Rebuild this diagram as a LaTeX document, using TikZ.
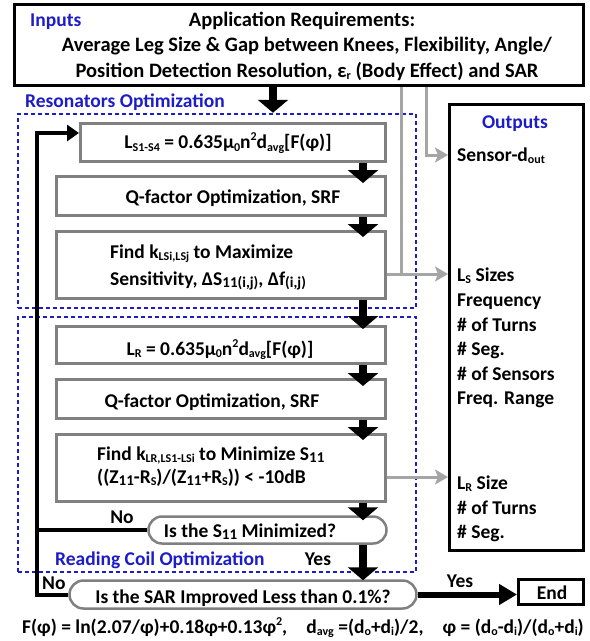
\documentclass[tikz,border=0pt]{standalone}
\usepackage{fontspec}
\setmainfont{Carlito}
\usetikzlibrary{arrows.meta,shapes.misc}
\definecolor{ttlblue}{RGB}{28,28,200}
\definecolor{boxgray}{RGB}{128,128,128}
\definecolor{arrgray}{RGB}{165,165,165}
% small lowered / raised text for indices and powers
\newcommand\sbx[1]{\raisebox{-0.3ex}{\fontsize{12}{12}\selectfont #1}}
\newcommand\spx[1]{\raisebox{0.8ex}{\fontsize{12}{12}\selectfont #1}}
\newcommand\sbxl[1]{\raisebox{-0.3ex}{\fontsize{15}{15}\selectfont #1}}
\begin{document}
\begin{tikzpicture}[x=1pt,y=-1pt,
  every node/.style={inner sep=0pt,font=\fontsize{19.5}{23}\selectfont\bfseries},
  bigtext/.style={font=\fontsize{20.5}{24}\selectfont\bfseries},
  txt/.style={anchor=base},
  txtl/.style={anchor=base west},
  ttl/.style={anchor=base west,text=ttlblue},
  procbox/.style={draw=boxgray,line width=3pt,rectangle},
  blkbox/.style={draw=black,line width=3pt,rectangle},
  decbox/.style={draw=boxgray,line width=2.5pt,rounded rectangle},
  dotbox/.style={draw=ttlblue,line width=2.5pt,dash pattern=on 4pt off 3pt},
  bigarrow/.style={line width=8pt,-{Triangle[length=13pt,width=30pt]}},
  looparrow/.style={line width=4pt,-{Triangle[length=12pt,width=16pt]}},
  loopline/.style={line width=4pt},
  endarrow/.style={line width=6pt,-{Triangle[length=18pt,width=20pt]}},
  grayarrow/.style={draw=arrgray,line width=3pt,-{Stealth[length=13pt,width=15pt,inset=3pt]}},
  grayline/.style={draw=arrgray,line width=3pt}
]
\useasboundingbox (0,0) rectangle (590,641);

% column positions of the connectors
\coordinate (ax0) at (273,0);
\coordinate (ax) at (363,0);
\coordinate (lx) at (37,0);
\coordinate (gx1) at (401,0);
\coordinate (gx2) at (426,0);

% dotted group frames
\node[dotbox,minimum width=398,minimum height=194] (resA) at (217,211) {};
\node[dotbox,minimum width=398,minimum height=255] (resB) at (217,444.5) {};

% inputs
\node[blkbox,minimum width=569,minimum height=81] (top) at (299,45) {};
\node[ttl] (tin) at (30,26) {Inputs};
\node[txt,bigtext] (tapp) at (302,26) {Application Requirements:};
\node[txt,bigtext] (tl2) at (307,51) {Average Leg Size \& Gap between Knees, Flexibility, Angle/};
\node[txt,bigtext] (tl3) at (307,77) {Position Detection Resolution, ε\sbx{r} (Body Effect) and SAR};

\node[ttl] (tres) at (25,107) {Resonators Optimization};

% resonator steps
\node[procbox,minimum width=305,minimum height=38] (b1) at (233,142.5) {};
\node[txt] (t1) at (228,148.5) {L\sbx{S1-S4} = 0.635μ\sbx{0}n\spx{2}d\sbx{avg}[F(φ)]};
\node[procbox,minimum width=329,minimum height=39] (b2) at (221,196) {};
\node[txt] (t2) at (233,203) {Q-factor Optimization, SRF};
\node[procbox,minimum width=329,minimum height=67] (b3) at (221,265) {};
\node[txtl] (t3a) at (110,258) {Find k\sbx{LSi,LSj} to Maximize};
\node[txtl] (t3b) at (110,285) {Sensitivity, ΔS\sbxl{11(i,j)}, Δf\sbxl{(i,j)}};

% reading coil steps
\node[procbox,minimum width=329,minimum height=37] (r1) at (221,345) {};
\node[txt] (u1) at (220,355) {L\sbx{R} = 0.635μ\sbx{0}n\spx{2}d\sbx{avg}[F(φ)]};
\node[procbox,minimum width=329,minimum height=39] (r2) at (221,399) {};
\node[txt] (u2) at (212,407) {Q-factor Optimization, SRF};
\node[procbox,minimum width=329,minimum height=67] (r3) at (221,468) {};
\node[txtl] (u3a) at (97,460) {Find k\sbx{LR,LS1-LSi} to Minimize S\sbxl{11}};
\node[txtl] (u3b) at (97,483) {((Z\sbxl{11}-R\sbx{S})/(Z\sbxl{11}+R\sbx{S})) < -10dB};

% decisions
\node[decbox,minimum width=238,minimum height=27] (s11) at (267.5,530) {};
\node[txt] (ts11) at (250,537) {Is the S\sbxl{11} Minimized?};
\node[ttl] (tread) at (55,565) {Reading Coil Optimization};
\node[txt] (yes1) at (318,565) {Yes};
\node[txt] (no1) at (122,523) {No};

\node[decbox,minimum width=347,minimum height=28] (sar) at (243,594.5) {};
\node[txt] (tsar) at (243,603) {Is the SAR Improved Less than 0.1\%?};
\node[txtl] (no2) at (42,589) {No};
\node[txt] (yes2) at (460,587) {Yes};

\node[blkbox,minimum width=65,minimum height=25] (end) at (551,592) {};
\node[txt] (tend) at (552,599) {End};

% outputs
\node[blkbox,minimum width=134,minimum height=446] (outs) at (516.5,327.5) {};
\node[txt,text=ttlblue] (tout) at (515,128) {Outputs};
\node[txtl] (o1) at (457,161) {Sensor-d\sbx{out}};
\node[txtl] (o2) at (457,281) {L\sbx{S} Sizes};
\node[txtl] (o3) at (457,306) {Frequency};
\node[txtl] (o4) at (457,331) {\# of Turns};
\node[txtl] (o5) at (457,355) {\# Seg.};
\node[txtl] (o6) at (457,380) {\# of Sensors};
\node[txtl] (o7) at (457,404) {Freq. Range};
\node[txtl] (o8) at (457,489) {L\sbx{R} Size};
\node[txtl] (o9) at (457,514) {\# of Turns};
\node[txtl] (o10) at (457,538) {\# Seg.};

% footnote formulas
\node[txtl] (f1) at (22,633) {F(φ) = ln(2.07/φ)+0.18φ+0.13φ\spx{2},};
\node[txt] (f2) at (365,633) {d\sbx{avg} =(d\sbx{o}+d\sbx{i})/2,};
\node[anchor=base east] (f3) at (584,633) {φ = (d\sbx{o}-d\sbx{i})/(d\sbx{o}+d\sbx{i})};

% gray output connectors
\coordinate (y1) at (0,155);
\coordinate (y2) at (0,274);
\coordinate (y3) at (0,477);
\draw[grayarrow] (top.south -| gx2) |- (outs.west |- y1);
\draw[grayline] (top.south -| gx1) -- (gx1 |- y2);
\draw[grayarrow] (b3.east |- y2) -- (outs.west |- y2);
\draw[grayarrow] (r3.east |- y3) -- (outs.west |- y3);

% main flow
\draw[bigarrow] (top.south -| ax0) -- (resA.north -| ax0);
\draw[bigarrow,shorten >=-8pt] (b1.south -| ax) -- (b2.north -| ax);
\draw[bigarrow,shorten >=-7pt] (b2.south -| ax) -- (b3.north -| ax);
\draw[bigarrow,shorten >=-4pt] (b3.south -| ax) -- (r1.north -| ax);
\draw[bigarrow,shorten >=-8pt] (r1.south -| ax) -- (r2.north -| ax);
\draw[bigarrow,shorten >=-7pt] (r2.south -| ax) -- (r3.north -| ax);
\draw[bigarrow,shorten >=-5pt] (r3.south -| ax) -- (s11.north -| ax);
\draw[bigarrow,shorten >=-1pt] (s11.south -| ax) -- (sar.north -| ax);

% feedback loops
\draw[looparrow] (sar.west) -- (sar.west -| lx) |- ([yshift=9.5pt]b1.west);
\draw[loopline] (s11.west) -- (s11.west -| lx);

% exit
\draw[endarrow] (sar.east) -- (end.west |- sar.east);
\end{tikzpicture}
\end{document}
